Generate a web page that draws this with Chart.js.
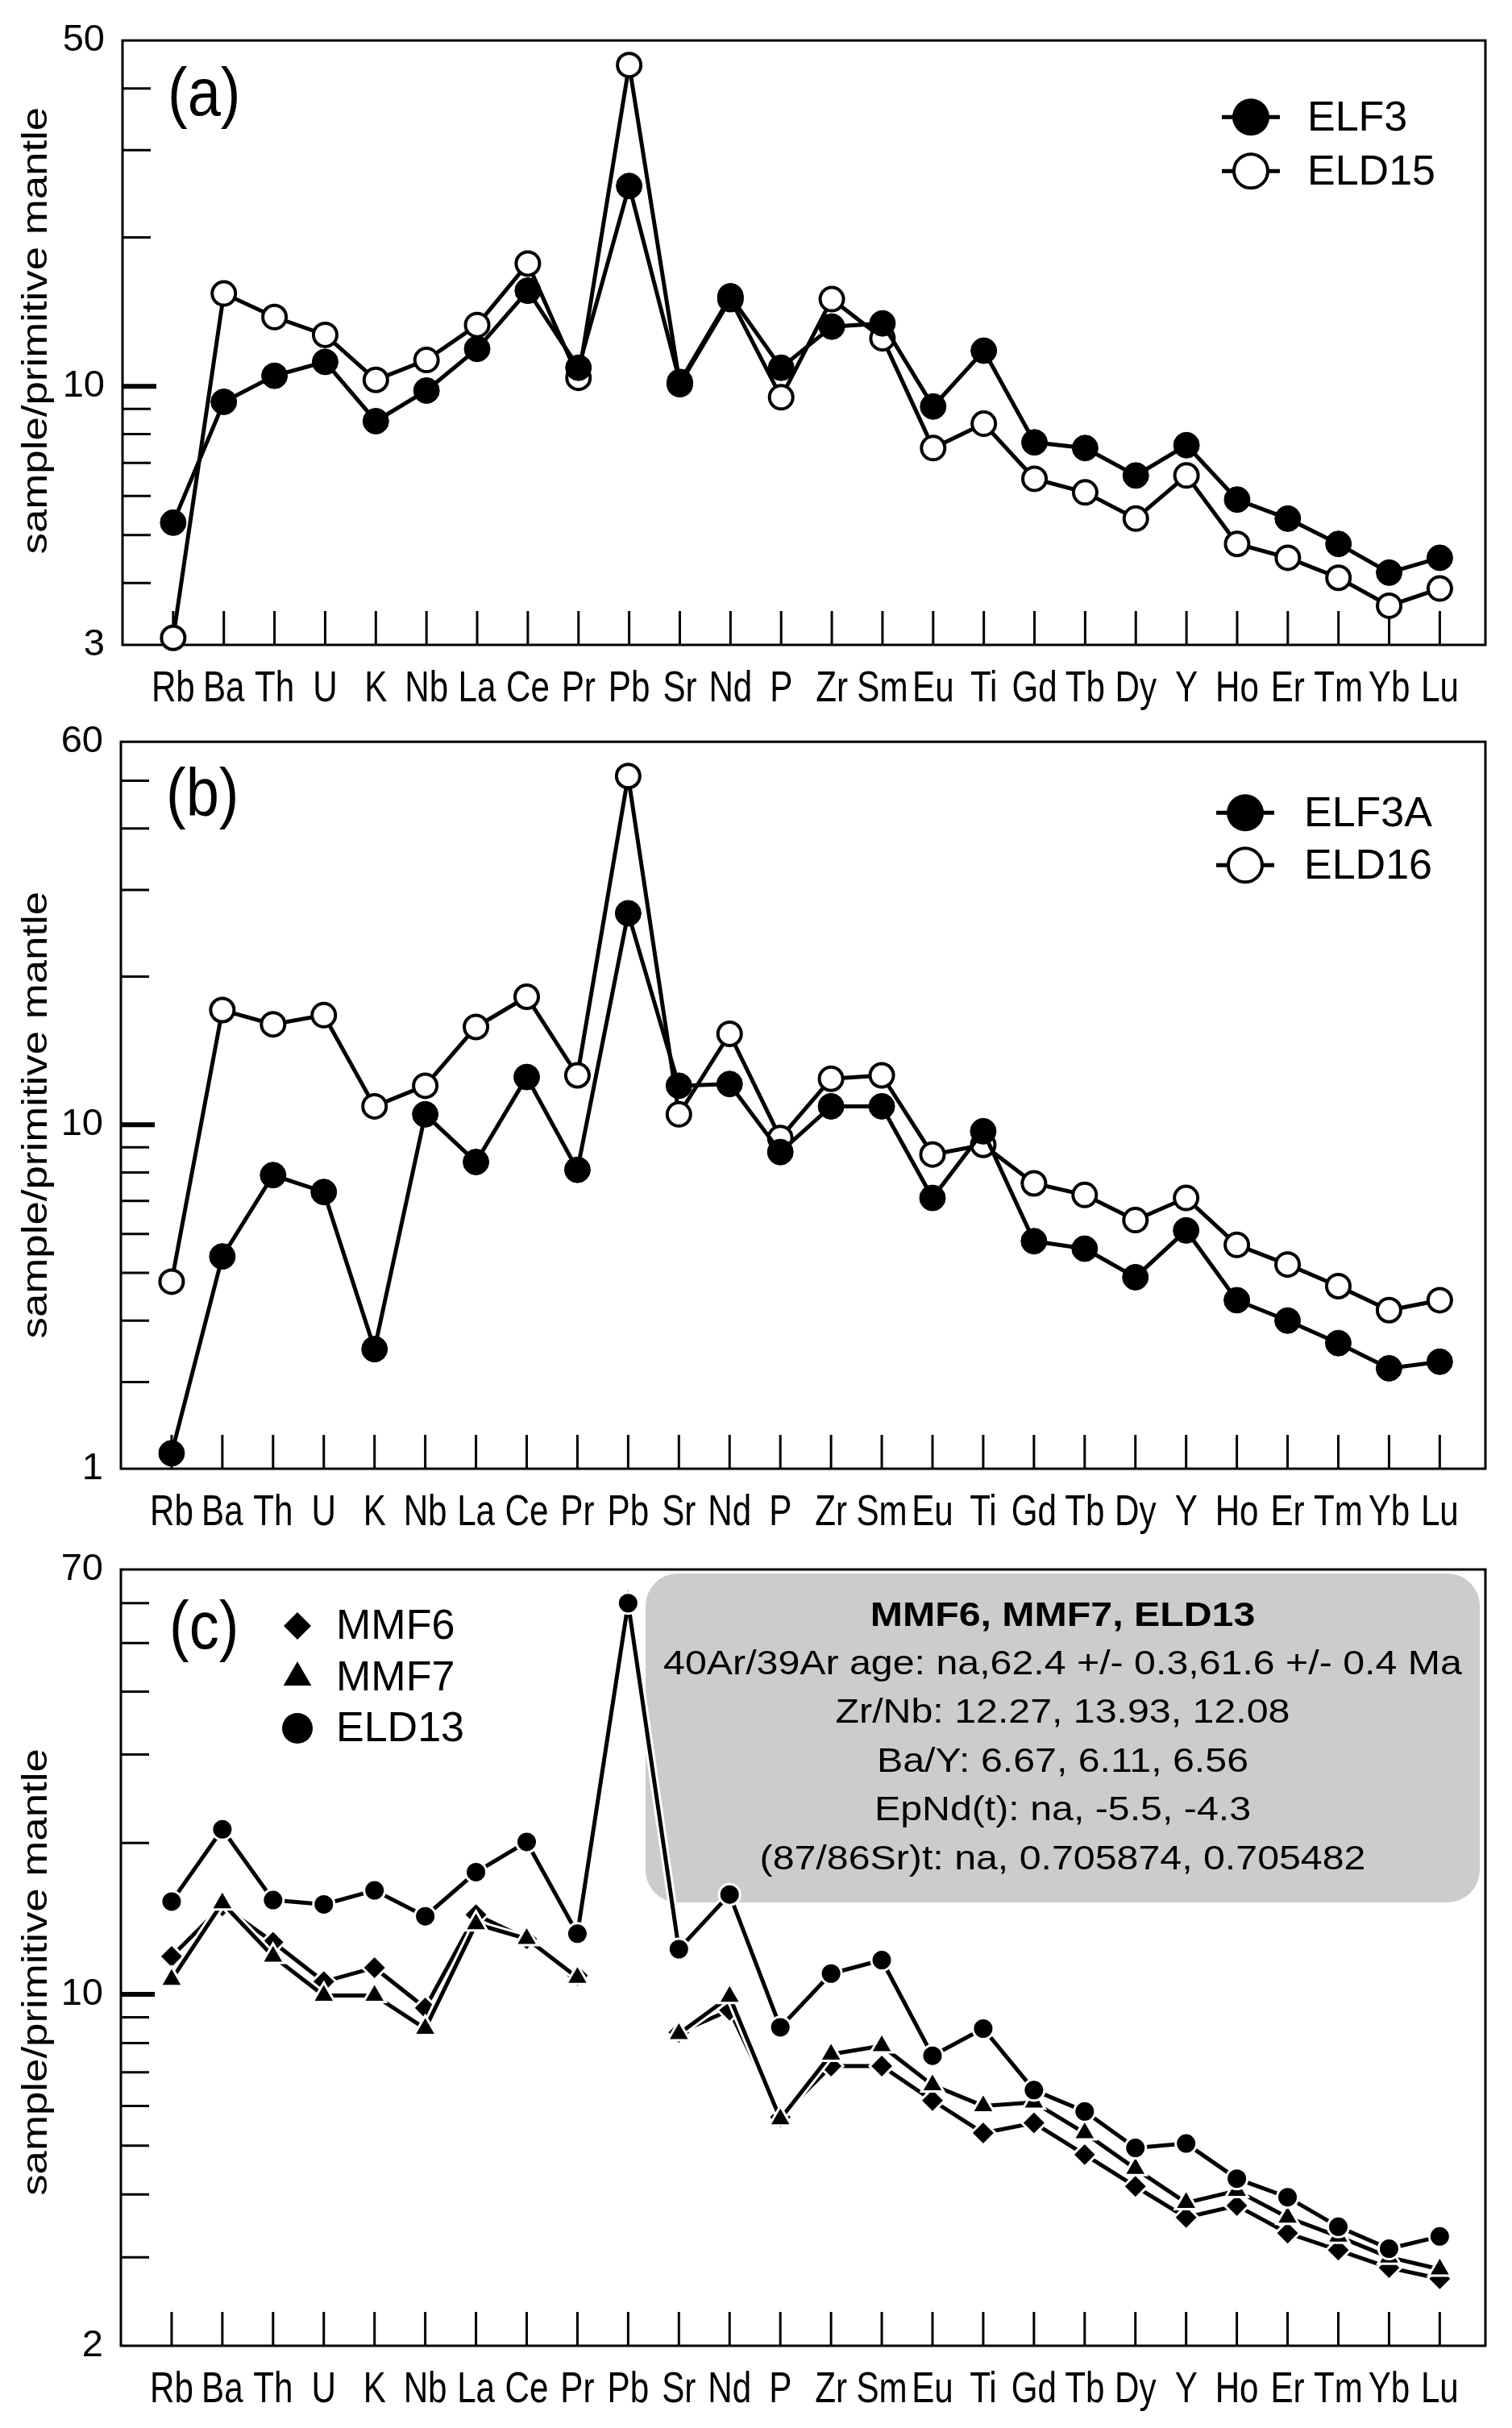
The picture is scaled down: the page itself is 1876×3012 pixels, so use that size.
<!DOCTYPE html>
<html>
<head>
<meta charset="utf-8">
<title>Primitive mantle normalized spidergrams</title>
<script src="https://cdn.jsdelivr.net/npm/chart.js@4.4.1/dist/chart.umd.min.js"></script>
<style>
  body { margin: 0; background: #fff; width: 1876px; height: 3012px; position: relative; overflow: hidden; }
  canvas { position: absolute; left: 0; }
</style>
</head>
<body>
<canvas id="chartA" width="1876" height="900" style="top:0px"></canvas>
<canvas id="chartB" width="1876" height="1050" style="top:870px"></canvas>
<canvas id="chartC" width="1876" height="1122" style="top:1890px"></canvas>
<script>
// element order on the x axis
var elements = ['Rb', 'Ba', 'Th', 'U', 'K', 'Nb', 'La', 'Ce', 'Pr', 'Pb', 'Sr', 'Nd', 'P',
                'Zr', 'Sm', 'Eu', 'Ti', 'Gd', 'Tb', 'Dy', 'Y', 'Ho', 'Er', 'Tm', 'Yb', 'Lu'];

// panel (a)
var elf3  = [5.3, 9.3, 10.5, 11.2, 8.5, 9.8, 11.9, 15.6, 10.9, 25.4, 10.2, 15.2, 10.9,
             13.2, 13.4, 9.1, 11.8, 7.7, 7.5, 6.6, 7.6, 5.9, 5.4, 4.8, 4.2, 4.5];
var eld15 = [3.1, 15.4, 13.8, 12.7, 10.3, 11.3, 13.3, 17.7, 10.4, 44.6, 10.1, 15.0, 9.5,
             15.0, 12.5, 7.5, 8.4, 6.5, 6.1, 5.4, 6.6, 4.8, 4.5, 4.1, 3.6, 3.9];

// panel (b)
var elf3a = [2.15, 5.4, 7.9, 7.3, 3.5, 10.5, 8.4, 12.5, 8.1, 26.9, 12.0, 12.1, 8.8,
             10.9, 10.9, 7.1, 9.7, 5.8, 5.6, 4.9, 6.1, 4.4, 4.0, 3.6, 3.2, 3.3];
var eld16 = [4.8, 17.1, 16.0, 16.7, 10.9, 12.0, 15.8, 18.2, 12.6, 51.1, 10.5, 15.3, 9.4,
             12.4, 12.6, 8.7, 9.1, 7.6, 7.2, 6.4, 7.1, 5.7, 5.2, 4.7, 4.2, 4.4];

// panel (c) - no Pb for the MMF samples
var mmf6  = [11.9, 15.0, 12.7, 10.6, 11.3, 9.4, 14.4, 12.9, 10.9, null, 8.4, 9.3, 5.7,
             7.2, 7.2, 6.15, 5.3, 5.55, 4.8, 4.15, 3.6, 3.8, 3.35, 3.1, 2.86, 2.72];
var mmf7  = [10.7, 15.2, 11.9, 9.95, 9.95, 8.55, 13.8, 12.9, 10.8, null, 8.35, 9.9, 5.65,
             7.6, 7.9, 6.6, 6.0, 6.1, 5.3, 4.5, 3.85, 4.07, 3.6, 3.3, 3.0, 2.84];
var eld13 = [15.3, 21.3, 15.4, 15.1, 16.1, 14.3, 17.5, 20.1, 13.2, 60.0, 12.3, 15.8, 8.6,
             11.0, 11.7, 7.55, 8.55, 6.45, 5.85, 4.95, 5.05, 4.3, 3.95, 3.45, 3.12, 3.3];

// y axis: labelled values and their tick text (panel b's bottom tick reads "1" in the original)
var yTicksA = [3, 10, 50],  yLabelsA = ['3', '10', '50'];
var yTicksB = [2, 10, 60],  yLabelsB = ['1', '10', '60'];
var yTicksC = [2, 10, 70],  yLabelsC = ['2', '10', '70'];
var yMinorA = [4, 5, 6, 7, 8, 9, 20, 30, 40];
var yMinorB = [3, 4, 5, 6, 7, 8, 9, 20, 30, 40, 50];
var yMinorC = [3, 4, 5, 6, 7, 8, 9, 20, 30, 40, 50, 60];

var yTitle = 'sample/primitive mantle';
var noteLines = [
  'MMF6, MMF7, ELD13',
  '40Ar/39Ar age: na,62.4 +/- 0.3,61.6 +/- 0.4 Ma',
  'Zr/Nb: 12.27, 13.93, 12.08',
  'Ba/Y: 6.67, 6.11, 6.56',
  'EpNd(t): na, -5.5, -4.3',
  '(87/86Sr)t: na, 0.705874, 0.705482'
];

var SANS = "'Liberation Sans', Arial, sans-serif";

function drawMarker(ctx, style, x, y, r) {
  ctx.beginPath();
  if (style === 'rectRot') {
    ctx.moveTo(x, y - r); ctx.lineTo(x + r, y); ctx.lineTo(x, y + r); ctx.lineTo(x - r, y);
    ctx.closePath();
  } else if (style === 'triangle') {
    ctx.moveTo(x, y - r);
    ctx.lineTo(x + r * 0.866, y + r * 0.5);
    ctx.lineTo(x - r * 0.866, y + r * 0.5);
    ctx.closePath();
  } else {
    ctx.arc(x, y, r, 0, Math.PI * 2);
  }
}

// draw text squeezed / stretched horizontally (the original uses a narrow face)
function stretchedText(ctx, text, x, y, sx, sy) {
  ctx.save();
  ctx.translate(x, y);
  ctx.scale(sx, sy || 1);
  ctx.fillText(text, 0, 0);
  ctx.restore();
}

// frame, inner ticks, titles, legend and the grey note box
var decor = {
  id: 'decor',
  beforeDatasetsDraw: function (chart, args, o) {
    var ctx = chart.ctx, a = chart.chartArea, ys = chart.scales.y, xs = chart.scales.x;
    ctx.save();
    if (o.note) {
      ctx.fillStyle = '#cccccc';
      ctx.beginPath();
      ctx.roundRect(o.note.left, a.top + o.note.top, o.note.right - o.note.left, o.note.bottom - o.note.top, 40);
      ctx.fill();
      ctx.fillStyle = '#000';
      ctx.textAlign = 'center';
      ctx.textBaseline = 'middle';
      var cx = (o.note.left + o.note.right) / 2;
      noteLines.forEach(function (line, i) {
        ctx.font = (i === 0 ? 'bold ' : '') + '42px ' + SANS;
        stretchedText(ctx, line, cx, a.top + o.note.firstLine + i * o.note.lineGap, 1.15);
      });
    }
    ctx.strokeStyle = '#000';
    ctx.lineWidth = 3;
    ctx.strokeRect(a.left, a.top, a.right - a.left, a.bottom - a.top);
    ctx.beginPath();
    o.minor.forEach(function (v) {
      var py = ys.getPixelForValue(v);
      ctx.moveTo(a.left, py); ctx.lineTo(a.left + 35, py);
    });
    elements.forEach(function (e, i) {
      var px = xs.getPixelForValue(i);
      ctx.moveTo(px, a.bottom); ctx.lineTo(px, a.bottom - 42);
    });
    ctx.stroke();
    ctx.lineWidth = 6;
    ctx.beginPath();
    var p10 = ys.getPixelForValue(10);
    ctx.moveTo(a.left, p10); ctx.lineTo(a.left + 42, p10);
    ctx.stroke();
    ctx.restore();
  },
  beforeDatasetDraw: function (chart, args, o) {
    if (!o.casing) return;
    var ctx = chart.ctx, pen = false;
    ctx.save();
    ctx.strokeStyle = '#fff';
    ctx.lineWidth = o.casing;
    ctx.beginPath();
    args.meta.data.forEach(function (p) {
      if (p.skip) { pen = false; return; }
      if (!pen) { ctx.moveTo(p.x, p.y); pen = true; } else { ctx.lineTo(p.x, p.y); }
    });
    ctx.stroke();
    ctx.restore();
  },
  afterDraw: function (chart, args, o) {
    var ctx = chart.ctx, a = chart.chartArea, xs = chart.scales.x;
    ctx.save();
    ctx.fillStyle = '#000';
    // category labels at the x scale positions, in a narrow face
    ctx.font = '54px ' + SANS;
    ctx.textAlign = 'center';
    ctx.textBaseline = 'middle';
    elements.forEach(function (e, i) {
      stretchedText(ctx, e, xs.getPixelForValue(i), a.bottom + 55, 0.78);
    });
    // y axis title, stretched along its length like the original
    ctx.save();
    ctx.translate(46, (a.top + a.bottom) / 2 + o.titleDy);
    ctx.rotate(-Math.PI / 2);
    ctx.scale(1.2, 1);
    ctx.font = '44px ' + SANS;
    ctx.fillText(yTitle, 0, 0);
    ctx.restore();
    // panel letter
    ctx.font = '74px ' + SANS;
    ctx.textAlign = 'left';
    stretchedText(ctx, o.letter, o.letterX, a.top + o.letterY, 1, 1.12);
    // legend
    ctx.font = '52px ' + SANS;
    o.legend.forEach(function (it) {
      var my = a.top + it.y;
      if (it.line) {
        ctx.strokeStyle = '#000';
        ctx.lineWidth = 5;
        ctx.beginPath();
        ctx.moveTo(o.legendX - 36, my); ctx.lineTo(o.legendX + 36, my);
        ctx.stroke();
      }
      drawMarker(ctx, it.style, o.legendX, my, it.r);
      ctx.fillStyle = it.fill;
      ctx.fill();
      if (it.bw) {
        ctx.lineWidth = it.bw;
        ctx.strokeStyle = '#000';
        ctx.stroke();
      }
      ctx.fillStyle = '#000';
      ctx.fillText(it.text, o.textX, my + 2);
    });
    ctx.restore();
  }
};

function filledSeries(label, data) {
  return { label: label, data: data, borderColor: '#000', borderWidth: 5, clip: false,
           pointRadius: 16, pointBackgroundColor: '#000', pointBorderColor: '#000', pointBorderWidth: 1 };
}
function openSeries(label, data) {
  return { label: label, data: data, borderColor: '#000', borderWidth: 5, clip: false,
           pointRadius: 14.5, pointBackgroundColor: '#fff', pointBorderColor: '#000', pointBorderWidth: 4 };
}
function markSeries(label, data, style, r, order) {
  return { label: label, data: data, borderColor: '#000', borderWidth: 5, clip: false, order: order,
           pointStyle: style, pointRadius: r, pointBackgroundColor: '#000',
           pointBorderColor: '#fff', pointBorderWidth: 3 };
}

function makePanel(id, p) {
  var ctx = document.getElementById(id);
  return new Chart(ctx.getContext('2d'), {
    type: 'line',
    data: { datasets: p.datasets },
    options: {
      responsive: false,
      animation: false,
      devicePixelRatio: 1,
      layout: { padding: { left: 0, right: 33, top: p.top, bottom: 0 } },
      scales: {
        x: {
          type: 'linear', min: -1, max: 25.9, bounds: 'data',
          grid: { display: false, drawTicks: false },
          border: { display: false },
          afterBuildTicks: function (s) { s.ticks = elements.map(function (e, i) { return { value: i }; }); },
          afterFit: function (s) { s.height = p.xHeight; },
          ticks: { display: false }
        },
        y: {
          type: 'logarithmic', min: p.yTicks[0], max: p.yTicks[2],
          grid: { display: false, drawTicks: false },
          border: { display: false },
          afterBuildTicks: function (s) { s.ticks = p.yTicks.map(function (v) { return { value: v }; }); },
          afterFit: function (s) { s.width = p.yWidth; },
          ticks: {
            padding: 22, color: '#000',
            font: { family: SANS, size: 47 },
            callback: function (v, i) { return p.yLabels[i]; }
          }
        }
      },
      plugins: {
        legend: { display: false },
        tooltip: { enabled: false },
        decor: p.decor
      }
    },
    plugins: [decor]
  });
}

// points use x = element index so positions come from the linear x scale
function xy(arr) { return arr.map(function (v, i) { return { x: i, y: v }; }); }

makePanel('chartA', {
  top: 49, xHeight: 100, yWidth: 152, yTicks: yTicksA, yLabels: yLabelsA,
  datasets: [filledSeries('ELF3', xy(elf3)), openSeries('ELD15', xy(eld15))],
  decor: {
    minor: yMinorA, titleDy: -15, letter: '(a)', letterX: 208, letterY: 70, legendX: 1552, textX: 1622,
    legend: [
      { text: 'ELF3', style: 'circle', r: 23, fill: '#000', bw: 0, line: true, y: 95 },
      { text: 'ELD15', style: 'circle', r: 21, fill: '#fff', bw: 4, line: true, y: 162 }
    ]
  }
});

makePanel('chartB', {
  top: 50, xHeight: 98, yWidth: 150, yTicks: yTicksB, yLabels: yLabelsB,
  datasets: [filledSeries('ELF3A', xy(elf3a)), openSeries('ELD16', xy(eld16))],
  decor: {
    minor: yMinorB, titleDy: 12, letter: '(b)', letterX: 206, letterY: 69, legendX: 1545, textX: 1618,
    legend: [
      { text: 'ELF3A', style: 'circle', r: 23, fill: '#000', bw: 0, line: true, y: 88 },
      { text: 'ELD16', style: 'circle', r: 21, fill: '#fff', bw: 4, line: true, y: 153 }
    ]
  }
});

makePanel('chartC', {
  top: 57, xHeight: 102, yWidth: 150, yTicks: yTicksC, yLabels: yLabelsC,
  datasets: [
    markSeries('MMF6', xy(mmf6), 'rectRot', 15, 2),
    markSeries('MMF7', xy(mmf7), 'triangle', 16, 1),
    markSeries('ELD13', xy(eld13), 'circle', 13, 0)
  ],
  decor: {
    minor: yMinorC, titleDy: 18, casing: 11, letter: '(c)', letterX: 210, letterY: 75, legendX: 369, textX: 417,
    legend: [
      { text: 'MMF6', style: 'rectRot', r: 17, fill: '#000', bw: 0, line: false, y: 70 },
      { text: 'MMF7', style: 'triangle', r: 20, fill: '#000', bw: 0, line: false, y: 134 },
      { text: 'ELD13', style: 'circle', r: 19, fill: '#000', bw: 0, line: false, y: 197 }
    ],
    note: { left: 801, right: 1836, top: 5, bottom: 413, firstLine: 58, lineGap: 60.4 }
  }
});
</script>
</body>
</html>
